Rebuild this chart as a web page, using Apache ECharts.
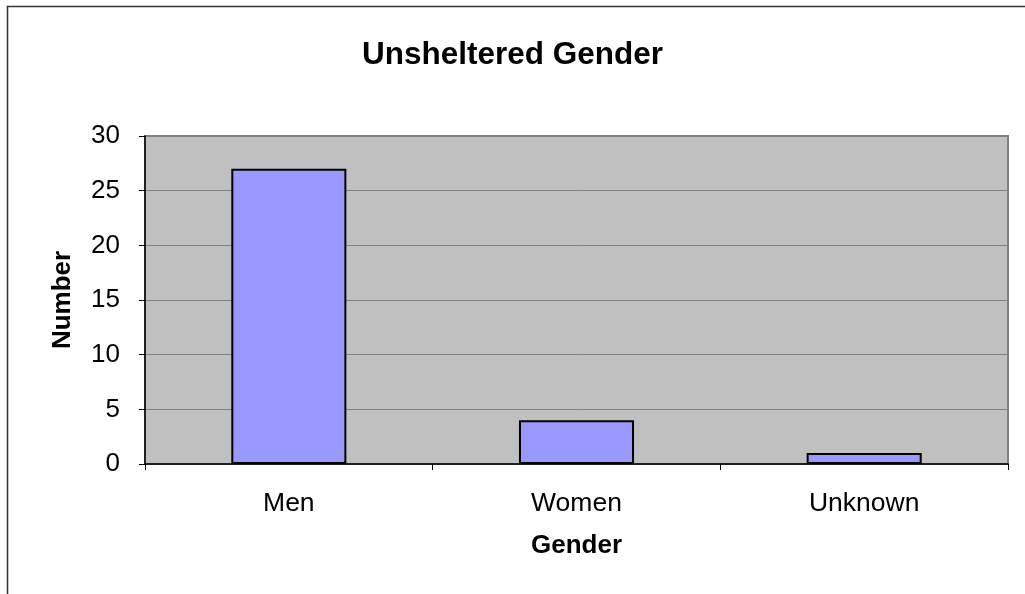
<!DOCTYPE html>
<html>
<head>
<meta charset="utf-8">
<script src="https://cdn.jsdelivr.net/npm/echarts@6/dist/echarts.min.js"></script>
<style>
  html, body { margin: 0; padding: 0; background: #fff; }
  #chart { width: 1025px; height: 594px; }
</style>
</head>
<body>
<div id="chart"></div>
<script>
var categories = ['Men', 'Women', 'Unknown']
var counts = [27, 4, 1]

var font = 'Liberation Sans, Arial, sans-serif'
var myChart = echarts.init(document.getElementById('chart'))

var option = {
  backgroundColor: '#fff',
  animation: false,
  title: {
    text: 'Unsheltered Gender',
    left: 'center',
    top: 34,
    textStyle: { fontFamily: font, fontSize: 31.5, fontWeight: 'bold', color: '#000' }
  },
  // outer chart frame
  graphic: [{
    type: 'rect',
    shape: { x: 7.5, y: 6.5, width: 1030, height: 600 },
    style: { fill: 'none', stroke: '#333', lineWidth: 1.5 },
    z: -1
  }],
  grid: {
    left: 145,
    right: 17,
    top: 136,
    bottom: 130,
    show: true,
    backgroundColor: '#C0C0C0',
    borderColor: '#808080',
    borderWidth: 2
  },
  xAxis: {
    type: 'category',
    data: categories,
    name: 'Gender',
    nameLocation: 'middle',
    nameGap: 69,
    nameTextStyle: { fontFamily: font, fontSize: 26, fontWeight: 'bold', color: '#000' },
    axisLine: { lineStyle: { color: '#000', width: 1.5 } },
    axisTick: { show: true, length: 6, lineStyle: { color: '#000' } },
    axisLabel: { fontFamily: font, fontSize: 26.5, color: '#000', margin: 26 }
  },
  yAxis: {
    type: 'value',
    min: 0,
    max: 30,
    interval: 5,
    name: 'Number',
    nameLocation: 'middle',
    nameGap: 69,
    nameTextStyle: { fontFamily: font, fontSize: 26, fontWeight: 'bold', color: '#000' },
    axisLine: { show: true, lineStyle: { color: '#000', width: 1.5 } },
    axisTick: { show: true, length: 6, lineStyle: { color: '#000' } },
    axisLabel: { fontFamily: font, fontSize: 26, color: '#000', margin: 25 },
    splitLine: { show: true, lineStyle: { color: '#808080', width: 1 } }
  },
  series: [{
    type: 'bar',
    data: counts,
    barWidth: '40%',
    itemStyle: { color: '#9999FF', borderColor: '#000', borderWidth: 2 }
  }]
}

myChart.setOption(option)
</script>
</body>
</html>
